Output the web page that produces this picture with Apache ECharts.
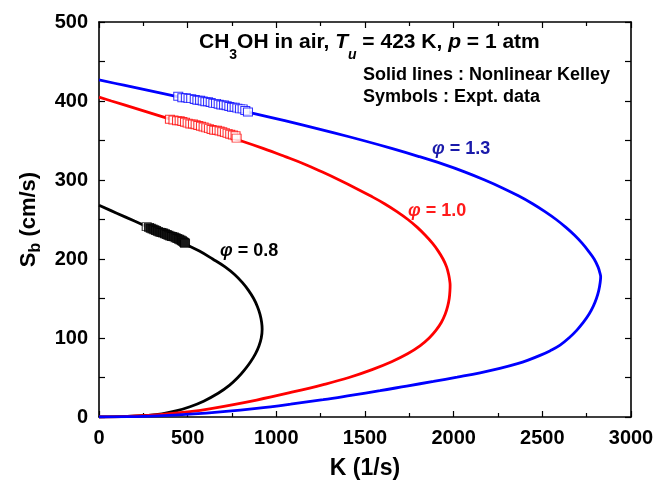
<!DOCTYPE html>
<html>
<head>
<meta charset="utf-8">
<script src="https://cdn.jsdelivr.net/npm/echarts@6/dist/echarts.min.js"></script>
<style>
  html, body { margin: 0; padding: 0; background: #fff; }
  #main { width: 672px; height: 485px; }
</style>
</head>
<body>
<div id="main"></div>
<script>
// Nonlinear Kelley curves (K in 1/s, Sb in cm/s)
// phi = 0.8 (black)
var kLine08 = [0, 100, 200, 280, 378, 476, 566, 641, 711, 766, 809, 844, 872, 893, 908, 917, 920,
  915, 902, 882, 855, 822, 783, 735, 672, 590, 513, 440, 355, 270, 160, 0];
var sbLine08 = [268, 258, 248, 240, 230, 220, 210, 200, 190, 180, 170, 160, 150, 140, 130, 120, 111,
  100, 90, 80, 70, 60, 50, 40, 30, 20, 13, 8, 4, 2, 0.7, 0];

// phi = 1.0 (red)
var kLine10 = [0, 70, 215, 360, 505, 655, 795, 925, 1045, 1160, 1260, 1355, 1445, 1530, 1610, 1680, 1742, 1795, 1840, 1880, 1913, 1940, 1960, 1972, 1978, 1980,
  1979, 1975, 1966, 1952, 1931, 1901, 1862, 1810, 1740, 1650, 1540, 1410, 1265, 1100, 889, 640, 513, 340, 160, 0];
var sbLine10 = [405, 400, 390, 380, 370, 360, 350, 340, 330, 320, 310, 300, 290, 280, 270, 260, 250, 240, 230, 220, 210, 200, 190, 180, 172, 167,
  160, 150, 140, 130, 120, 110, 100, 90, 80, 70, 60, 50, 41, 32, 21.5, 11, 6.7, 3, 0.8, 0];

// phi = 1.3 (blue)
var kLine13 = [0, 140, 350, 558, 760, 955, 1140, 1320, 1490, 1650, 1800, 1940, 2065, 2175, 2275, 2365, 2445, 2515, 2578, 2633, 2682, 2724, 2760, 2792, 2814, 2825, 2829,
  2826, 2818, 2805, 2787, 2763, 2732, 2695, 2650, 2600, 2545, 2487, 2420, 2360, 2260, 2149, 2020, 1886, 1735, 1585, 1420, 1264, 1080, 889, 700, 513, 330, 160, 0];
var sbLine13 = [426.6, 420, 410, 400, 390, 380, 370, 360, 350, 340, 330, 320, 310, 300, 290, 280, 270, 260, 250, 240, 230, 220, 210, 200, 190, 182, 177.6,
  170, 160, 150, 140, 130, 120, 110, 100, 91, 84, 78, 72, 67.5, 61.5, 56, 50.5, 45, 39.2, 33.3, 27.4, 22, 16.3, 11, 6.8, 3.6, 1.5, 0.4, 0];

// experimental points
var kExp08 = [269, 282, 292, 302, 312, 322, 332, 342, 352, 362, 372, 382, 392, 402, 412, 422, 432, 442, 452, 460, 468, 475, 481, 485];
var sbExp08 = [241, 240, 239, 238, 237, 236, 235, 234, 233.5, 233, 232, 231, 230, 229, 228.5, 228, 227, 226, 225, 224, 223, 222, 221, 220];

var kExp10 = [400, 420, 440, 455, 470, 485, 500, 515, 530, 545, 560, 575, 590, 605, 620, 635, 650, 665, 680, 695, 710, 725, 740, 755, 770, 776];
var sbExp10 = [377, 376, 375, 375, 374, 373, 372, 371, 371, 370, 369, 368, 367, 366, 365, 364, 363, 363, 362, 361, 360, 359, 358, 357, 356, 353];

var kExp13 = [447, 470, 490, 505, 520, 540, 555, 570, 585, 600, 615, 630, 645, 660, 675, 690, 705, 720, 735, 750, 765, 780, 795, 810, 825, 840];
var sbExp13 = [406, 404, 404, 403, 403, 402, 401, 401, 400, 399, 399, 398, 397, 397, 396, 395, 395, 394, 393, 392, 392, 391, 390, 390, 388, 386];

var xTicks = [0, 500, 1000, 1500, 2000, 2500, 3000];
var yTicks = [0, 100, 200, 300, 400, 500];

var FONT = '"Liberation Sans", Arial, sans-serif';

function pairs(xs, ys) {
  var out = [];
  for (var i = 0; i < xs.length; i++) {
    out.push([xs[i], ys[i]]);
  }
  return out;
}

function lineSeries(xs, ys, color) {
  return {
    type: 'line',
    data: pairs(xs, ys),
    showSymbol: false,
    smooth: 0.4,
    lineStyle: { color: color, width: 2.8 },
    silent: true,
    z: 2
  };
}

function expSeries(xs, ys, color, fill) {
  var data = pairs(xs, ys);
  // first (lowest K) symbol stays open
  data[0] = { value: data[0], itemStyle: { color: '#fff' } };
  return {
    type: 'scatter',
    data: data,
    symbol: 'rect',
    symbolSize: [9, 8],
    itemStyle: { color: fill, borderColor: color, borderWidth: 1 },
    silent: true,
    z: 3
  };
}

function xAxisDef(pos, showLabel) {
  return {
    type: 'value',
    position: pos,
    min: 0,
    max: 3000,
    interval: 500,
    name: showLabel ? 'K (1/s)' : '',
    nameLocation: 'middle',
    nameGap: 40,
    nameTextStyle: { fontFamily: FONT, fontWeight: 'bold', fontSize: 23, color: '#000' },
    axisLine: { show: true, onZero: false, lineStyle: { color: '#000', width: 1.6 } },
    axisTick: { show: true, inside: true, length: 6, lineStyle: { color: '#000', width: 1.2 } },
    minorTick: { show: true, splitNumber: 2, length: 4, lineStyle: { color: '#000', width: 1.2 } },
    axisLabel: {
      show: showLabel,
      margin: 11,
      fontFamily: FONT,
      fontWeight: 'bold',
      fontSize: 20,
      color: '#000',
      formatter: function (v) { return xTicks.indexOf(v) >= 0 ? String(v) : ''; }
    },
    splitLine: { show: false }
  };
}

function yAxisDef(pos, showLabel) {
  return {
    type: 'value',
    position: pos,
    min: 0,
    max: 500,
    interval: 100,
    name: showLabel ? '{a|S}{b|b}{a| (cm/s)}' : '',
    nameLocation: 'middle',
    nameRotate: 90,
    nameGap: 45,
    nameTextStyle: {
      rich: {
        a: { fontFamily: FONT, fontWeight: 'bold', fontSize: 22, color: '#000', lineHeight: 30 },
        b: { fontFamily: FONT, fontWeight: 'bold', fontSize: 16, color: '#000', lineHeight: 16, verticalAlign: 'bottom' }
      }
    },
    axisLine: { show: true, onZero: false, lineStyle: { color: '#000', width: 1.6 } },
    axisTick: { show: true, inside: true, length: 6, lineStyle: { color: '#000', width: 1.2 } },
    minorTick: { show: true, splitNumber: 2, length: 6, lineStyle: { color: '#000', width: 1.2 } },
    axisLabel: {
      show: showLabel,
      margin: 11,
      fontFamily: FONT,
      fontWeight: 'bold',
      fontSize: 20,
      color: '#000',
      formatter: function (v) { return yTicks.indexOf(v) >= 0 ? String(v) : ''; }
    },
    splitLine: { show: false }
  };
}

function phiLabel(value, color) {
  return {
    text: '{p|φ}{t| = ' + value + '}',
    rich: {
      p: { fontFamily: FONT, fontStyle: 'italic', fontWeight: 'bold', fontSize: 18, fill: color },
      t: { fontFamily: FONT, fontWeight: 'bold', fontSize: 18, fill: color }
    }
  };
}

var chart = echarts.init(document.getElementById('main'), null, { renderer: 'canvas' });

var option = {
  backgroundColor: '#fff',
  animation: false,
  grid: { left: 99, right: 41, top: 22, bottom: 68, containLabel: false },
  xAxis: [xAxisDef('bottom', true), xAxisDef('top', false)],
  yAxis: [yAxisDef('left', true), yAxisDef('right', false)],
  series: [
    lineSeries(kLine08, sbLine08, '#000'),
    lineSeries(kLine10, sbLine10, '#ff0000'),
    lineSeries(kLine13, sbLine13, '#0000ff'),
    expSeries(kExp08, sbExp08, '#000', '#1a1a1a'),
    expSeries(kExp10, sbExp10, '#ff0000', '#fff'),
    expSeries(kExp13, sbExp13, '#0000ff', '#fff')
  ],
  graphic: [
    {
      type: 'text',
      left: 199,
      top: 32,
      style: {
        text: '{n|CH}{s|3}{n|OH in air, }{i|T}{si|u}{n| = 423 K, }{i|p}{n| = 1 atm}',
        rich: {
          n: { fontFamily: FONT, fontWeight: 'bold', fontSize: 21, fill: '#000', lineHeight: 24 },
          i: { fontFamily: FONT, fontWeight: 'bold', fontStyle: 'italic', fontSize: 21, fill: '#000', lineHeight: 24 },
          s: { fontFamily: FONT, fontWeight: 'bold', fontSize: 14, fill: '#000', lineHeight: 14, verticalAlign: 'bottom', padding: [0, 0, -8, 0] },
          si: { fontFamily: FONT, fontWeight: 'bold', fontStyle: 'italic', fontSize: 14, fill: '#000', lineHeight: 14, verticalAlign: 'bottom', padding: [0, 0, -8, 0] }
        }
      }
    },
    {
      type: 'text',
      left: 363,
      top: 66,
      style: { text: 'Solid lines : Nonlinear Kelley', font: 'bold 18px ' + FONT, fill: '#000' }
    },
    {
      type: 'text',
      left: 363,
      top: 88,
      style: { text: 'Symbols : Expt. data', font: 'bold 18px ' + FONT, fill: '#000' }
    },
    { type: 'text', left: 432, top: 140, style: phiLabel('1.3', '#1a1aaa') },
    { type: 'text', left: 408, top: 202, style: phiLabel('1.0', '#ff1a1a') },
    { type: 'text', left: 220, top: 242, style: phiLabel('0.8', '#000') }
  ]
};

chart.setOption(option);
</script>
</body>
</html>
